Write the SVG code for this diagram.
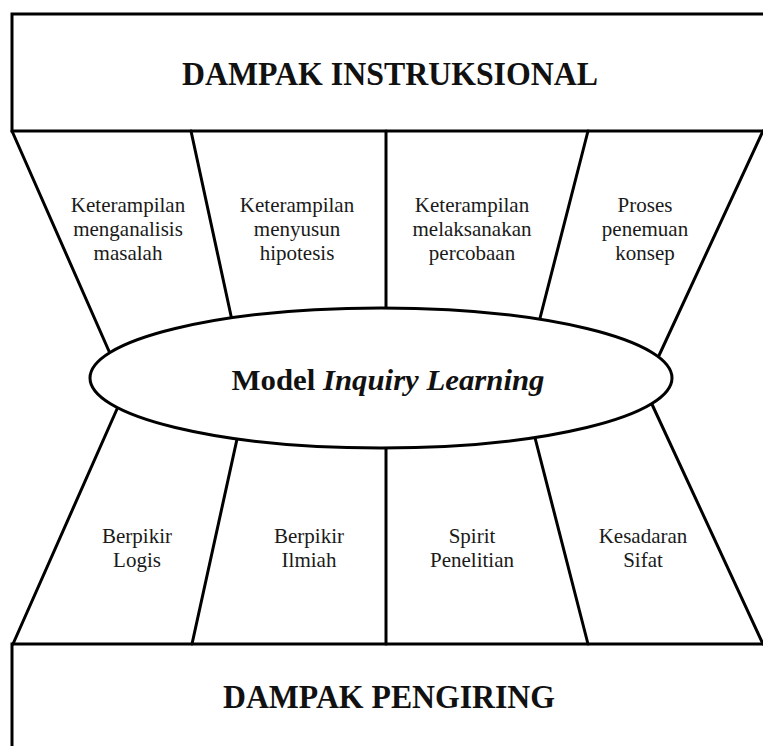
<svg xmlns="http://www.w3.org/2000/svg" width="763" height="746" viewBox="0 0 763 746">
  <style>
    .frame { fill: #ffffff; stroke: #000000; stroke-width: 3; }
    .edge { stroke: #000000; stroke-width: 3; fill: none; stroke-linecap: round; }
    .title { font-family: "Liberation Serif", "Times New Roman", serif; font-weight: bold; font-size: 33px; fill: #111111; text-anchor: middle; }
    .core { font-family: "Liberation Serif", "Times New Roman", serif; font-weight: bold; font-size: 29px; fill: #111111; text-anchor: middle; }
    .item { font-family: "Liberation Serif", "Times New Roman", serif; font-size: 21px; fill: #1a1a1a; text-anchor: middle; }
  </style>

  <rect width="763" height="746" fill="#ffffff"/>

  <!-- upper outcome box -->
  <g id="dampak-instruksional">
    <rect class="frame" x="12" y="14" width="770" height="117"/>
    <text class="title" x="390" y="85" textLength="416" lengthAdjust="spacingAndGlyphs">DAMPAK INSTRUKSIONAL</text>
  </g>

  <!-- lower outcome box -->
  <g id="dampak-pengiring">
    <rect class="frame" x="12" y="644" width="770" height="120"/>
    <text class="title" x="389" y="708" textLength="332" lengthAdjust="spacingAndGlyphs">DAMPAK PENGIRING</text>
  </g>

  <!-- fan of dividers between the boxes and the central model -->
  <g id="connectors">
    <line class="edge" x1="12" y1="131" x2="112" y2="358"/>
    <line class="edge" x1="191" y1="131" x2="233" y2="325"/>
    <line class="edge" x1="386" y1="131" x2="386" y2="315"/>
    <line class="edge" x1="588" y1="131" x2="538" y2="326"/>
    <line class="edge" x1="763" y1="131" x2="656" y2="362"/>

    <line class="edge" x1="121" y1="400" x2="13" y2="644"/>
    <line class="edge" x1="239" y1="430" x2="192" y2="644"/>
    <line class="edge" x1="386" y1="440" x2="386" y2="644"/>
    <line class="edge" x1="533" y1="430" x2="588" y2="644"/>
    <line class="edge" x1="650" y1="400" x2="763" y2="644"/>
  </g>

  <!-- central model -->
  <g id="model-inquiry-learning">
    <ellipse class="frame" cx="381" cy="378" rx="291" ry="70"/>
    <text class="core" x="388" y="390" textLength="313" lengthAdjust="spacingAndGlyphs">Model <tspan font-style="italic">Inquiry Learning</tspan></text>
  </g>

  <!-- instructional effects -->
  <g id="menganalisis-masalah">
    <text class="item" x="128" y="212">Keterampilan</text>
    <text class="item" x="128" y="236">menganalisis</text>
    <text class="item" x="128" y="260">masalah</text>
  </g>
  <g id="menyusun-hipotesis">
    <text class="item" x="297" y="212">Keterampilan</text>
    <text class="item" x="297" y="236">menyusun</text>
    <text class="item" x="297" y="260">hipotesis</text>
  </g>
  <g id="melaksanakan-percobaan">
    <text class="item" x="472" y="212">Keterampilan</text>
    <text class="item" x="472" y="236">melaksanakan</text>
    <text class="item" x="472" y="260">percobaan</text>
  </g>
  <g id="penemuan-konsep">
    <text class="item" x="645" y="212">Proses</text>
    <text class="item" x="645" y="236">penemuan</text>
    <text class="item" x="645" y="260">konsep</text>
  </g>

  <!-- nurturant effects -->
  <g id="berpikir-logis">
    <text class="item" x="137" y="543">Berpikir</text>
    <text class="item" x="137" y="567">Logis</text>
  </g>
  <g id="berpikir-ilmiah">
    <text class="item" x="309" y="543">Berpikir</text>
    <text class="item" x="309" y="567">Ilmiah</text>
  </g>
  <g id="spirit-penelitian">
    <text class="item" x="472" y="543">Spirit</text>
    <text class="item" x="472" y="567">Penelitian</text>
  </g>
  <g id="kesadaran-sifat">
    <text class="item" x="643" y="543">Kesadaran</text>
    <text class="item" x="643" y="567">Sifat</text>
  </g>
</svg>
